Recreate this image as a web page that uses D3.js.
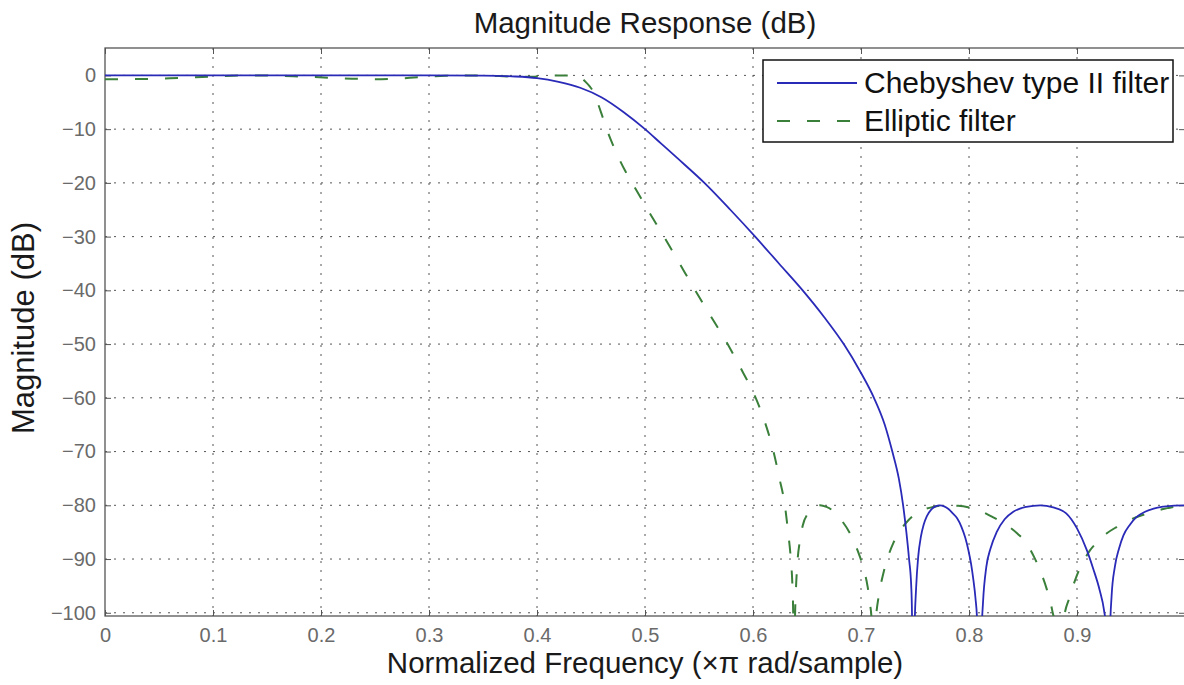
<!DOCTYPE html>
<html>
<head>
<meta charset="utf-8">
<script src="https://cdn.jsdelivr.net/npm/d3@7"></script>
<style>
  html, body { margin: 0; padding: 0; background: #fff; }
  svg { display: block; font-family: "Liberation Sans", Arial, Helvetica, sans-serif; }
</style>
</head>
<body>
<svg id="chart" width="1184" height="685"></svg>
<script>
// Normalized frequency (×π rad/sample) and magnitude (dB) of the two lowpass designs
const chebyFreq = [0, 0.1, 0.2, 0.3, 0.35, 0.38, 0.40, 0.42, 0.44, 0.46, 0.48, 0.50,
  0.515, 0.53, 0.555, 0.579, 0.602, 0.624, 0.646, 0.666, 0.684, 0.699, 0.712, 0.722, 0.729,
  0.735, 0.739, 0.742, 0.7445, 0.7465, 0.7472, 0.748,
  0.7495, 0.751, 0.753, 0.7555, 0.758, 0.761, 0.765, 0.769, 0.773,
  0.777, 0.781, 0.785, 0.789, 0.793, 0.7965, 0.7995, 0.802, 0.804, 0.806, 0.8075, 0.810,
  0.8115, 0.813, 0.816, 0.820, 0.8256, 0.833, 0.841, 0.853, 0.866,
  0.878, 0.890, 0.900, 0.909, 0.915, 0.921, 0.925, 0.927, 0.929,
  0.9305, 0.932, 0.935, 0.939, 0.943, 0.949, 0.955, 0.963, 0.971, 0.980, 0.990, 1.0];
const chebyMag = [0, 0, 0, 0, -0.05, -0.2, -0.5, -1.2, -2.3, -4.1, -6.8, -10,
  -12.7, -15.4, -20, -25, -30, -35, -40, -45, -50, -55, -60, -65, -70,
  -75, -80, -85, -90, -95, -100, -130,
  -104, -95.5, -89.5, -85.8, -83.6, -82, -80.8, -80.2, -80,
  -80.2, -80.7, -81.5, -82.4, -84, -86, -88.4, -91, -93.8, -97.3, -101.5, -130,
  -105, -98, -91.5, -88, -85, -82.6, -81.2, -80.3, -80,
  -80.4, -81.5, -84.3, -88.3, -91.8, -95.8, -99.5, -103, -130,
  -104, -97, -91.5, -88, -85.6, -83.6, -82.2, -81.2, -80.6, -80.25, -80.05, -80];

const ellipFreq = [0, 0.03, 0.06, 0.09, 0.11, 0.13, 0.15, 0.18, 0.21, 0.235, 0.25, 0.27, 0.29,
  0.315, 0.335, 0.355, 0.375, 0.39, 0.405, 0.42, 0.432,
  0.437, 0.441, 0.445, 0.449, 0.452, 0.456, 0.460, 0.4645, 0.470, 0.476, 0.482, 0.488,
  0.495, 0.5025, 0.510, 0.5175, 0.532, 0.5465, 0.5615, 0.5765, 0.590, 0.6025, 0.611, 0.619,
  0.6245, 0.6295, 0.6325, 0.635, 0.6365, 0.6372, 0.638,
  0.6388, 0.6397, 0.641, 0.6435, 0.646, 0.651, 0.656, 0.662, 0.668, 0.674, 0.682, 0.690,
  0.697, 0.702, 0.706, 0.7085, 0.710, 0.711,
  0.7125, 0.714, 0.717, 0.721, 0.725, 0.730, 0.736, 0.742, 0.748, 0.757, 0.767, 0.779,
  0.790, 0.798, 0.810, 0.822, 0.835, 0.845, 0.853, 0.860, 0.866, 0.872, 0.877, 0.8815, 0.884,
  0.8855, 0.888, 0.893, 0.900, 0.906, 0.912, 0.920, 0.927, 0.937, 0.946, 0.958, 0.971, 0.980,
  0.989, 1.0];
const ellipMag = [-0.7, -0.68, -0.55, -0.3, -0.1, 0, -0.02, -0.2, -0.45, -0.65, -0.7, -0.6, -0.35,
  -0.08, 0, -0.05, -0.2, -0.25, -0.15, -0.02, 0,
  -0.1, -0.5, -1.2, -2.1, -3.0, -5.0, -7.3, -10, -12.8, -15.5, -17.9, -20,
  -22.4, -25, -27.5, -30, -35, -40, -45, -50, -55, -60, -64.5, -70,
  -75, -80, -85, -90, -95, -100, -130,
  -102, -96, -91, -86.5, -83.8, -81.5, -80.4, -80, -80.3, -81, -82.8, -85.3,
  -88.5, -91.5, -95, -98.5, -102, -130,
  -104, -100.5, -96.2, -92.4, -89.6, -87, -84.8, -83.2, -82, -80.9, -80.3, -80,
  -80.1, -80.3, -81, -82.2, -83.7, -85.3, -87, -89.5, -92.2, -95.6, -99.5, -105, -130,
  -106, -101, -97.2, -93, -90.4, -88.4, -86.6, -85.3, -84, -83, -82, -81.2, -80.7,
  -80.3, -80];

const xTicks = [0, 0.1, 0.2, 0.3, 0.4, 0.5, 0.6, 0.7, 0.8, 0.9];
const xTickLabels = ["0", "0.1", "0.2", "0.3", "0.4", "0.5", "0.6", "0.7", "0.8", "0.9"];
const yTicks = [0, -10, -20, -30, -40, -50, -60, -70, -80, -90, -100];
const yTickLabels = ["0", "\u221210", "\u221220", "\u221230", "\u221240", "\u221250",
  "\u221260", "\u221270", "\u221280", "\u221290", "\u2212100"];
const seriesNames = ["Chebyshev type II filter", "Elliptic filter"];

const svg = d3.select("#chart");
const plotLeft = 105, plotRight = 1185, plotTop = 48, plotBottom = 616;
const x = d3.scaleLinear().domain([0, 1]).range([plotLeft, plotRight]);
const y = d3.scaleLinear().domain([-100.6, 5.1]).range([plotBottom, plotTop]);

const frameColor = "#555";
const tickTextColor = "#6a6a6a";
const blue = "#2a2ab8";
const green = "#3a7f3a";

svg.append("defs").append("clipPath").attr("id", "plotClip")
  .append("rect").attr("x", plotLeft).attr("y", plotTop)
  .attr("width", plotRight - plotLeft).attr("height", plotBottom - plotTop);

// dotted grid
const grid = svg.append("g");
grid.selectAll("line.gx").data(xTicks.slice(1).concat([1])).join("line")
  .attr("x1", d => x(d)).attr("x2", d => x(d))
  .attr("y1", plotTop).attr("y2", plotBottom)
  .attr("stroke", "#555").attr("stroke-width", 1).attr("stroke-dasharray", "2,7");
grid.selectAll("line.gy").data(yTicks).join("line")
  .attr("x1", plotLeft).attr("x2", plotRight)
  .attr("y1", d => y(d)).attr("y2", d => y(d))
  .attr("stroke", "#555").attr("stroke-width", 1).attr("stroke-dasharray", "2,7");

// axes with inward ticks on all four sides
const tickLen = 6;
const xAxisB = d3.axisBottom(x).tickValues(xTicks).tickSizeInner(-tickLen).tickSizeOuter(0)
  .tickFormat((d, i) => xTickLabels[i]).tickPadding(12);
const xAxisT = d3.axisTop(x).tickValues(xTicks).tickSizeInner(-tickLen).tickSizeOuter(0)
  .tickFormat("");
const yAxisL = d3.axisLeft(y).tickValues(yTicks).tickSizeInner(-tickLen).tickSizeOuter(0)
  .tickFormat((d, i) => yTickLabels[i]).tickPadding(9);
const yAxisR = d3.axisRight(y).tickValues(yTicks).tickSizeInner(-tickLen).tickSizeOuter(0)
  .tickFormat("");

function styleAxis(g) {
  g.select(".domain").remove();
  g.selectAll(".tick line").attr("stroke", frameColor).attr("stroke-width", 1);
  g.selectAll(".tick text").attr("fill", tickTextColor)
    .style("font-size", "20px").style("font-family", "'Liberation Sans', Arial, sans-serif");
}
svg.append("g").attr("transform", `translate(0,${plotBottom})`).call(xAxisB).call(styleAxis);
svg.append("g").attr("transform", `translate(0,${plotTop})`).call(xAxisT).call(styleAxis);
svg.append("g").attr("transform", `translate(${plotLeft},0)`).call(yAxisL).call(styleAxis);
svg.append("g").attr("transform", `translate(${plotRight},0)`).call(yAxisR).call(styleAxis);

// frame
svg.append("rect").attr("x", plotLeft).attr("y", plotTop)
  .attr("width", plotRight - plotLeft).attr("height", plotBottom - plotTop)
  .attr("fill", "none").attr("stroke", frameColor).attr("stroke-width", 1.3);

// response curves
const line = d3.line().x(d => x(d[0])).y(d => y(d[1])).curve(d3.curveMonotoneX);
const plot = svg.append("g").attr("clip-path", "url(#plotClip)");
plot.append("path").datum(ellipFreq.map((f, i) => [f, ellipMag[i]]))
  .attr("d", line).attr("fill", "none").attr("stroke", green)
  .attr("stroke-width", 2).attr("stroke-dasharray", "13,17");
plot.append("path").datum(chebyFreq.map((f, i) => [f, chebyMag[i]]))
  .attr("d", line).attr("fill", "none").attr("stroke", blue)
  .attr("stroke-width", 1.8);

// legend
const lg = svg.append("g");
lg.append("rect").attr("x", 763).attr("y", 60).attr("width", 410).attr("height", 82)
  .attr("fill", "#fff").attr("stroke", "#111").attr("stroke-width", 1.5);
const legendRows = [
  { name: seriesNames[0], color: blue, dash: null, ly: 83, ty: 93 },
  { name: seriesNames[1], color: green, dash: "13,17", ly: 121, ty: 131 }
];
legendRows.forEach(r => {
  lg.append("line").attr("x1", 777).attr("x2", 857).attr("y1", r.ly).attr("y2", r.ly)
    .attr("stroke", r.color).attr("stroke-width", r.dash ? 2 : 1.8)
    .attr("stroke-dasharray", r.dash);
  lg.append("text").attr("x", 864).attr("y", r.ty).text(r.name)
    .attr("fill", "#111").style("font-size", "30px");
});

// title and axis labels
svg.append("text").attr("x", 645).attr("y", 33).attr("text-anchor", "middle")
  .attr("fill", "#1a1a1a").style("font-size", "29.5px").text("Magnitude Response (dB)");
svg.append("text").attr("x", 645).attr("y", 673).attr("text-anchor", "middle")
  .attr("fill", "#1a1a1a").style("font-size", "29.5px")
  .text("Normalized Frequency (\u00D7\u03C0 rad/sample)");
svg.append("text").attr("transform", "translate(34,328) rotate(-90)")
  .attr("text-anchor", "middle").attr("fill", "#1a1a1a").style("font-size", "31px")
  .text("Magnitude (dB)");
</script>
</body>
</html>
